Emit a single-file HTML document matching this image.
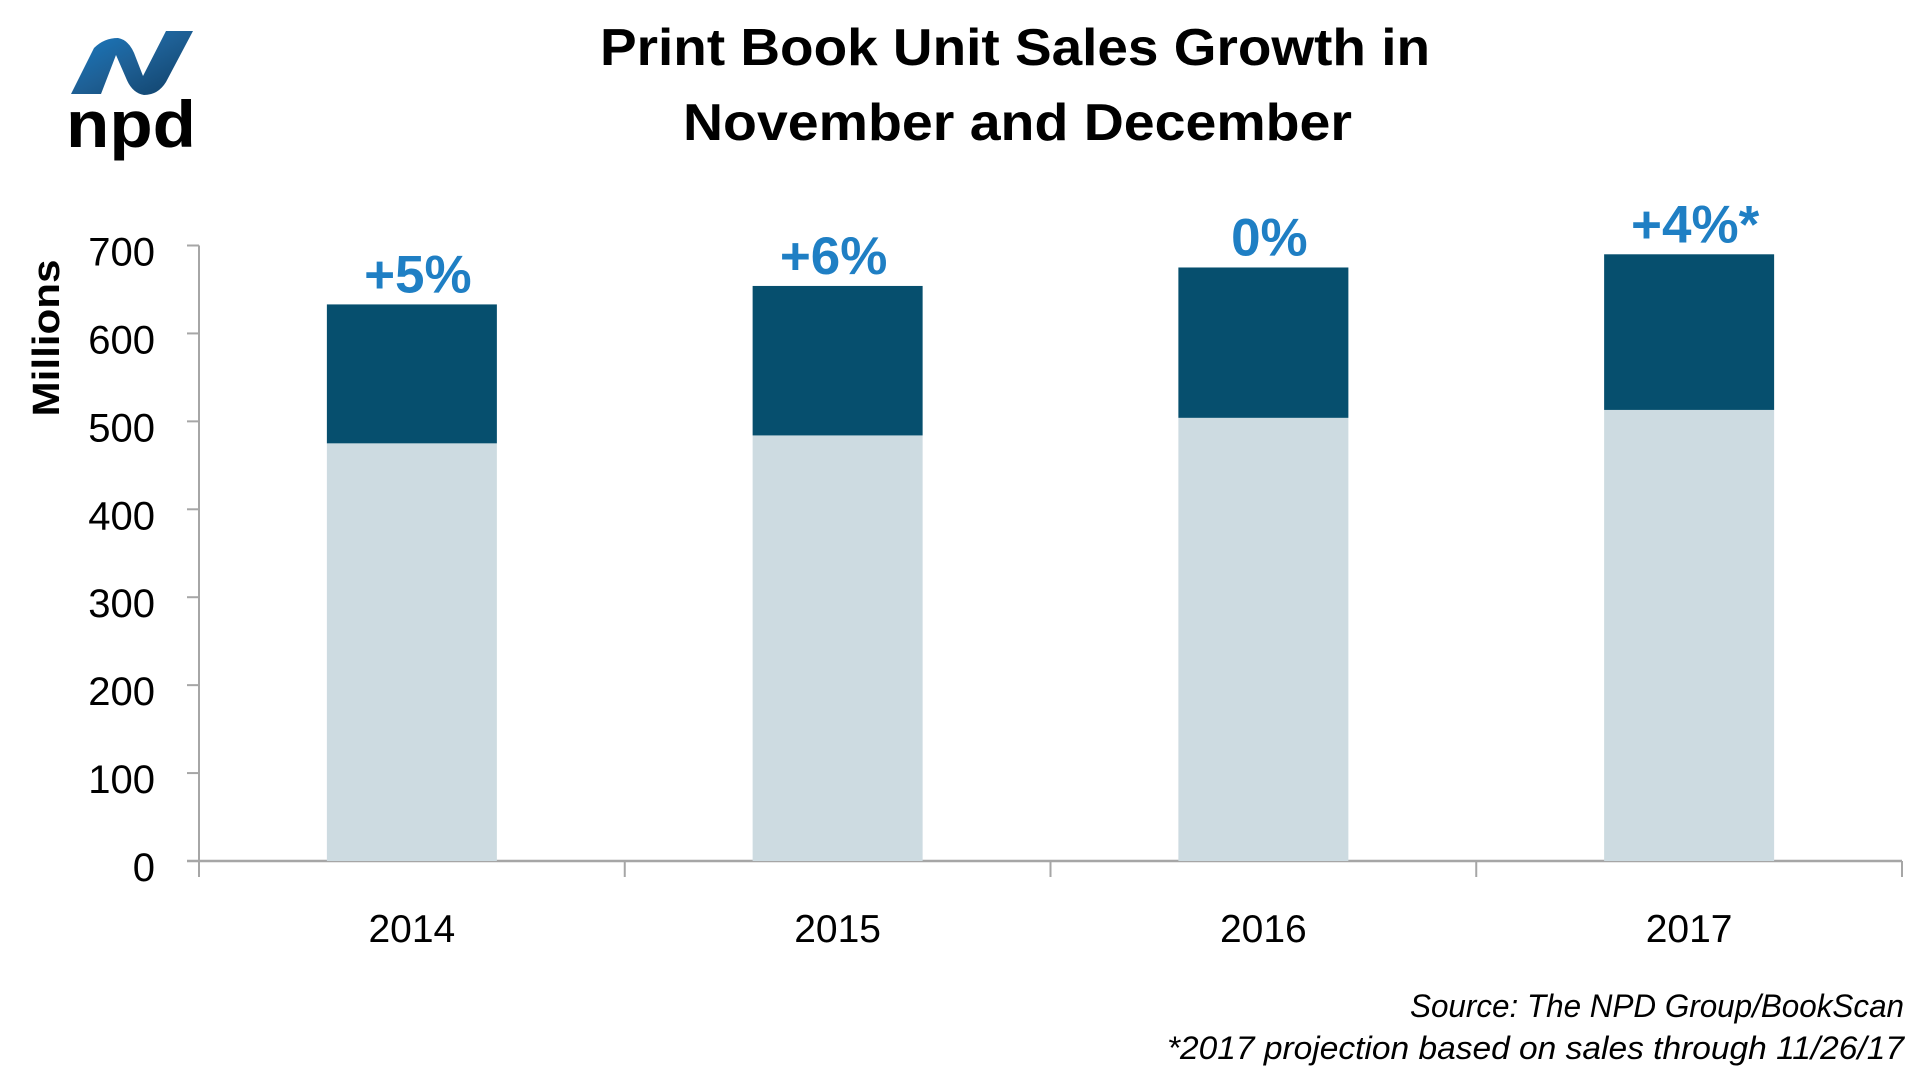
<!DOCTYPE html>
<html><head><meta charset="utf-8"><style>
html,body{margin:0;padding:0;background:#fff;}
svg{display:block;font-family:"Liberation Sans",sans-serif;}
</style></head><body>
<svg id="chart" width="1928" height="1080" viewBox="0 0 1928 1080" xmlns="http://www.w3.org/2000/svg">
<defs>
<linearGradient id="ng" x1="0" y1="0" x2="1" y2="1">
<stop offset="0" stop-color="#1a7cc4"/><stop offset="0.5" stop-color="#1e5f94"/><stop offset="1" stop-color="#0f3f66"/>
</linearGradient>
</defs>
<g>
<path d="M71 94 L94 48 Q104 38 118 38 Q130 40 136 58 L143 76 L166 31 L193 31 L166 82 Q158 95 144 95 Q132 93 126 78 L116 55 L101 94 Z" fill="url(#ng)"/>
<text x="66" y="147" font-weight="bold" font-size="66" textLength="130" lengthAdjust="spacingAndGlyphs" fill="#000">npd</text>
</g>
<text x="600" y="65" font-weight="bold" font-size="52" textLength="830" lengthAdjust="spacingAndGlyphs" fill="#000">Print Book Unit Sales Growth in</text>
<text x="683" y="140" font-weight="bold" font-size="52" textLength="669" lengthAdjust="spacingAndGlyphs" fill="#000">November and December</text>
<text transform="translate(59,338) rotate(-90)" text-anchor="middle" font-weight="bold" font-size="38" textLength="157" lengthAdjust="spacingAndGlyphs" fill="#000">Millions</text>
<g id="axes"></g>
<g id="bars"></g>
<text x="1904" y="1017" text-anchor="end" font-style="italic" font-size="32" textLength="494" lengthAdjust="spacingAndGlyphs" fill="#000">Source: The NPD Group/BookScan</text>
<text x="1904" y="1059" text-anchor="end" font-style="italic" font-size="32" textLength="737" lengthAdjust="spacingAndGlyphs" fill="#000">*2017 projection based on sales through 11/26/17</text>
</svg>
<script>
const categories = ["2014","2015","2016","2017"];
const baseValues = [475, 484, 504, 513];
const totalValues = [633, 654, 675, 690];
const growthLabels = ["+5%","+6%","0%","+4%*"];
const yTicks = [0,100,200,300,400,500,600,700];

const NS = "http://www.w3.org/2000/svg";
const X0 = 199, X1 = 1902, Y0 = 861, Y700 = 245.5;
const band = (X1 - X0) / categories.length;
const barW = 170;
function y(v){ return Y0 - (Y0 - Y700) * v / 700; }
function xc(i){ return X0 + band * (i + 0.5); }
function mk(tag, attrs, parent){
  const e = document.createElementNS(NS, tag);
  for (const k in attrs) e.setAttribute(k, attrs[k]);
  parent.appendChild(e); return e;
}
const axes = document.getElementById('axes');
const bars = document.getElementById('bars');

yTicks.forEach(t => {
  const tk = mk('line', {x1:X0-12, x2:X0, y1:y(t), y2:y(t), stroke:'#a6a6a6', 'stroke-width':2}, axes);
  
  
  const lb = mk('text', {x:155, y:y(t)+20, 'text-anchor':'end', 'font-size':40, fill:'#000'}, axes);
  
  
  lb.textContent = t;
});

categories.forEach((c, i) => {
  const cx = xc(i);
  const lo = mk('rect', {x:cx-barW/2, y:y(baseValues[i]), width:barW, height:y(0)-y(baseValues[i]), fill:'#cddbe1'}, bars);
  
  
  const hi = mk('rect', {x:cx-barW/2, y:y(totalValues[i]), width:barW, height:y(baseValues[i])-y(totalValues[i]), fill:'#064f6e'}, bars);
  
  
  const gl = mk('text', {x:cx+(i===1?-4:6), y:y(totalValues[i])-12, 'text-anchor':'middle', 'font-size':53, 'font-weight':'bold', fill:'#1f7fc4'}, bars);
  
  
  gl.textContent = growthLabels[i];
  const xl = mk('text', {x:cx, y:942, 'text-anchor':'middle', 'font-size':39, fill:'#000'}, axes);
  
  
  xl.textContent = c;
});

for (let i = 0; i <= categories.length; i++) {
  const xt = X0 + band * i;
  const tk = mk('line', {x1:xt, x2:xt, y1:Y0, y2:Y0+16, stroke:'#a6a6a6', 'stroke-width':2}, axes);
  
  
}
const ya = mk('line', {x1:X0, x2:X0, y1:Y700, y2:Y0+16, stroke:'#a6a6a6', 'stroke-width':2}, axes);


const xa = mk('line', {x1:X0-12, x2:X1, y1:Y0, y2:Y0, stroke:'#a6a6a6', 'stroke-width':2.5}, axes);


</script>
</body></html>
